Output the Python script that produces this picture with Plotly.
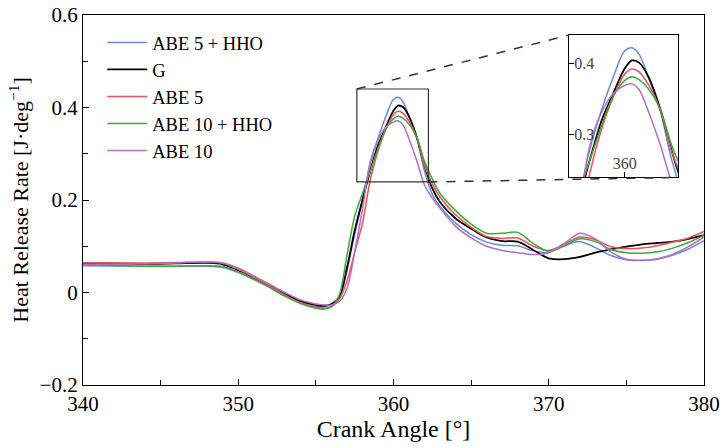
import plotly.graph_objects as go

# ---------------- data ----------------
crank_angle = [340, 342, 344, 346, 348, 349, 350, 351, 352, 353, 354, 355, 355.5, 356, 356.5,
               357, 357.5, 358, 358.5, 359, 359.5, 360, 360.3, 360.6, 361, 361.5, 362, 362.5,
               363, 364, 365, 366, 367, 368, 369, 370, 371, 372, 373, 374, 375, 376, 377, 378,
               379, 380]

abe5_hho = [0.058, 0.058, 0.057, 0.057, 0.057, 0.054, 0.043, 0.028, 0.012, -0.006, -0.021, -0.030,
            -0.031, -0.026, -0.012, 0.047, 0.126, 0.200, 0.277, 0.333, 0.380, 0.418, 0.422, 0.413,
            0.380, 0.333, 0.262, 0.212, 0.186, 0.150, 0.125, 0.109, 0.102, 0.101, 0.090, 0.087,
            0.101, 0.110, 0.097, 0.080, 0.071, 0.069, 0.072, 0.081, 0.094, 0.112]

g_fuel = [0.063, 0.063, 0.062, 0.063, 0.064, 0.061, 0.048, 0.032, 0.015, -0.003, -0.018, -0.027,
          -0.029, -0.025, -0.010, 0.053, 0.134, 0.200, 0.262, 0.318, 0.357, 0.393, 0.404, 0.401,
          0.381, 0.336, 0.275, 0.225, 0.195, 0.160, 0.138, 0.119, 0.111, 0.110, 0.092, 0.074,
          0.072, 0.077, 0.086, 0.093, 0.099, 0.104, 0.107, 0.110, 0.116, 0.124]

abe5 = [0.064, 0.064, 0.064, 0.065, 0.066, 0.063, 0.050, 0.033, 0.015, -0.005, -0.022, -0.032,
        -0.034, -0.031, -0.015, 0.025, 0.087, 0.150, 0.243, 0.306, 0.352, 0.385, 0.392, 0.388,
        0.370, 0.335, 0.274, 0.235, 0.206, 0.168, 0.141, 0.121, 0.117, 0.118, 0.100, 0.091,
        0.104, 0.120, 0.114, 0.099, 0.095, 0.096, 0.101, 0.109, 0.118, 0.132]

abe10_hho = [0.059, 0.058, 0.057, 0.057, 0.058, 0.056, 0.045, 0.029, 0.011, -0.008, -0.024, -0.034,
             -0.036, -0.030, -0.006, 0.080, 0.165, 0.214, 0.262, 0.311, 0.353, 0.376, 0.381, 0.377,
             0.364, 0.335, 0.283, 0.245, 0.214, 0.177, 0.148, 0.128, 0.128, 0.130, 0.106, 0.089,
             0.101, 0.116, 0.110, 0.093, 0.086, 0.085, 0.088, 0.096, 0.108, 0.124]

abe10 = [0.060, 0.061, 0.062, 0.064, 0.066, 0.064, 0.053, 0.036, 0.018, 0.000, -0.016, -0.025,
         -0.027, -0.027, -0.020, 0.008, 0.088, 0.180, 0.282, 0.330, 0.357, 0.369, 0.371, 0.363,
         0.332, 0.285, 0.232, 0.204, 0.182, 0.143, 0.118, 0.100, 0.091, 0.086, 0.082, 0.086,
         0.106, 0.128, 0.116, 0.088, 0.072, 0.070, 0.073, 0.083, 0.099, 0.120]

series_names = ["ABE 5 + HHO", "G", "ABE 5", "ABE 10 + HHO", "ABE 10"]
series_values = [abe5_hho, g_fuel, abe5, abe10_hho, abe10]
series_colors = ["#6a88d8", "#000000", "#f0505a", "#3aaa3a", "#b46cc8"]
series_widths = [1.5, 1.8, 1.5, 1.5, 1.5]

x_range = [340, 380]
y_range = [-0.2, 0.6]
zoom_x = [357.64, 362.25]
zoom_y = [0.239, 0.44]

# ---------------- figure ----------------
font_family = "Liberation Serif, Times New Roman, serif"
fig = go.Figure()

for name, vals, col, w in zip(series_names, series_values, series_colors, series_widths):
    fig.add_trace(go.Scatter(x=crank_angle, y=vals, name=name, mode="lines",
                             line=dict(color=col, width=w, shape="spline", smoothing=0.9)))
for name, vals, col, w in zip(series_names, series_values, series_colors, series_widths):
    fig.add_trace(go.Scatter(x=crank_angle, y=vals, name=name, mode="lines", showlegend=False,
                             xaxis="x2", yaxis="y2",
                             line=dict(color=col, width=w, shape="spline", smoothing=0.9)))

inset_dom_x = [0.783, 0.958]
inset_dom_y = [0.561, 0.946]

axis_common = dict(showgrid=False, zeroline=False, showline=True, linecolor="black",
                   mirror=True, tickcolor="black", automargin=False)

fig.update_layout(
    template="none",
    width=727, height=448,
    margin=dict(l=83, r=23, t=15, b=63, autoexpand=False),
    paper_bgcolor="white", plot_bgcolor="white",
    font=dict(family=font_family, size=20, color="black"),
    showlegend=True,
    legend=dict(x=0.031, y=0.976, xanchor="left", yanchor="top",
                bgcolor="rgba(0,0,0,0)", borderwidth=0, font=dict(size=18.5),
                tracegroupgap=0, itemwidth=40),
    xaxis=dict(range=x_range, dtick=10, tick0=340, ticks="inside", ticklen=6, linewidth=1.2,
               tickfont=dict(size=21),
               minor=dict(ticks="inside", ticklen=5, dtick=5, tick0=340, showgrid=False,
                          tickcolor="black"),
               title=dict(text="Crank Angle [°]", font=dict(size=24), standoff=2),
               **axis_common),
    yaxis=dict(range=y_range, dtick=0.2, tick0=-0.2, ticks="inside", ticklen=6, linewidth=1.2,
               tickfont=dict(size=21),
               minor=dict(ticks="inside", ticklen=5, dtick=0.1, tick0=-0.2, showgrid=False,
                          tickcolor="black"),
               title=dict(text="Heat Release Rate [J·deg<sup>−1</sup>]", font=dict(size=22),
                          standoff=4),
               **axis_common),
    xaxis2=dict(domain=inset_dom_x, anchor="y2", range=zoom_x, tickvals=[360],
                ticks="inside", ticklen=5, ticklabelposition="inside", linewidth=1.3,
                tickfont=dict(size=16), **axis_common),
    yaxis2=dict(domain=inset_dom_y, anchor="x2", range=zoom_y, tickvals=[0.3, 0.4],
                ticks="inside", ticklen=5, ticklabelposition="inside", linewidth=1.3,
                tickfont=dict(size=16), **axis_common),
)


def to_paper(xv, yv):
    px = (xv - x_range[0]) / (x_range[1] - x_range[0])
    py = (yv - y_range[0]) / (y_range[1] - y_range[0])
    return px, py


# zoom rectangle on main chart
fig.add_shape(type="rect", xref="x", yref="y", x0=zoom_x[0], x1=zoom_x[1],
              y0=zoom_y[0], y1=zoom_y[1], line=dict(color="#333333", width=1.2))

# connector lines
tlx, tly = to_paper(zoom_x[0], zoom_y[1])
brx, bry = to_paper(zoom_x[1], zoom_y[0])
fig.add_shape(type="line", xref="paper", yref="paper", x0=tlx, y0=tly,
              x1=inset_dom_x[0], y1=inset_dom_y[1],
              line=dict(color="#333333", width=1.5, dash="dash"))
fig.add_shape(type="line", xref="paper", yref="paper", x0=brx, y0=bry,
              x1=inset_dom_x[1], y1=inset_dom_y[0],
              line=dict(color="#333333", width=1.5, dash="dash"))

fig.write_html("out.html", config={"displayModeBar": False},
               post_script="document.body.style.margin='0';document.body.style.overflow='hidden';")
